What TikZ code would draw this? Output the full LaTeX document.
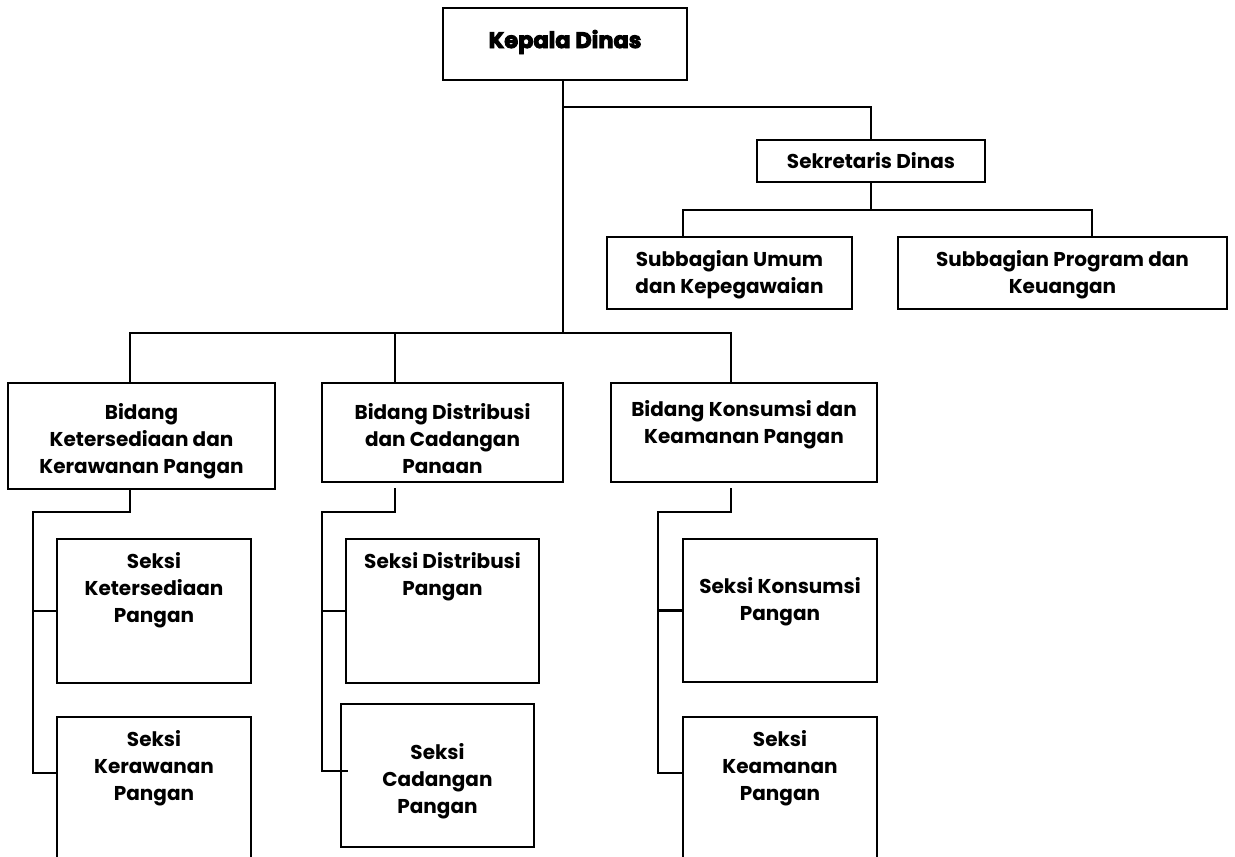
\documentclass[tikz,border=0pt]{standalone}
\usepackage{fontspec}
\setmainfont{Poppins}
\newfontfamily\heavyfont{Poppins}[BoldFeatures={FakeBold=4}]
\begin{document}
\begin{tikzpicture}[x=1pt,y=-1pt,
  box/.style={draw, line width=2.4pt, rectangle, inner sep=0pt},
  lbl/.style={align=center, inner sep=0pt, font=\bfseries\fontsize{20}{27}\selectfont},
  conn/.style={line width=2.4pt}]
\useasboundingbox (0,0) rectangle (1235,857);
\clip (0,0) rectangle (1235,857);
% boxes
\node[box, minimum width=244pt, minimum height=72pt] (kepala) at (565,44) {};
\node[box, minimum width=228pt, minimum height=42pt] (sekr) at (871,161) {};
\node[box, minimum width=245pt, minimum height=72pt] (subU) at (729.5,273) {};
\node[box, minimum width=329pt, minimum height=72pt] (subP) at (1062.5,273) {};
\node[box, minimum width=267pt, minimum height=106pt] (b1) at (141.5,436) {};
\node[box, minimum width=241pt, minimum height=99pt] (b2) at (442.5,432.5) {};
\node[box, minimum width=266pt, minimum height=99pt] (b3) at (744,432.5) {};
\node[box, minimum width=194pt, minimum height=144pt] (s1a) at (154,611) {};
\node[box, minimum width=194pt, minimum height=153pt] (s1b) at (154,793.5) {};
\node[box, minimum width=193pt, minimum height=144pt] (s2a) at (442.5,611) {};
\node[box, minimum width=193pt, minimum height=143pt] (s2b) at (437.5,775.5) {};
\node[box, minimum width=194pt, minimum height=143pt] (s3a) at (780,610.5) {};
\node[box, minimum width=194pt, minimum height=153pt] (s3b) at (780,793.5) {};
% labels
\node[lbl, font=\heavyfont\bfseries\fontsize{22.5}{26}\selectfont] (kepalat) at (565,42) {Kepala Dinas};
\node[lbl] (sekrt) at (871,161) {Sekretaris Dinas};
\node[lbl] (subUt) at (729.5,275) {Subbagian Umum\\dan Kepegawaian};
\node[lbl] (subPt) at (1062.5,275) {Subbagian Program dan\\Keuangan};
\node[lbl] (b1t) at (141.5,441) {Bidang\\Ketersediaan dan\\Kerawanan Pangan};
\node[lbl] (b2t) at (442.5,439) {Bidang Distribusi\\dan Cadangan\\Panaan};
\node[lbl] (b3t) at (744,425) {Bidang Konsumsi dan\\Keamanan Pangan};
\node[lbl] (s1at) at (154,590) {Seksi\\Ketersediaan\\Pangan};
\node[lbl] (s2at) at (442.5,576.5) {Seksi Distribusi\\Pangan};
\node[lbl] (s3at) at (780,601.5) {Seksi Konsumsi\\Pangan};
\node[lbl] (s1bt) at (154,768) {Seksi\\Kerawanan\\Pangan};
\node[lbl] (s2bt) at (437.5,781) {Seksi\\Cadangan\\Pangan};
\node[lbl] (s3bt) at (780,768) {Seksi\\Keamanan\\Pangan};
% connectors: top
\coordinate (jtop) at (563,333);
\coordinate (js) at (563,107);
\draw[conn] (kepala.south -| jtop) -- (jtop);
\draw[conn] (js) -| (sekr.north);
\coordinate (jsub) at (871,210);
\coordinate (su1) at (683,210);
\coordinate (su2) at (1092,210);
\draw[conn] (sekr.south) -- (jsub);
\draw[conn] (subU.north -| su1) -- (su1) -- (su2) -- (subP.north -| su2);
% bidang
\coordinate (hb1) at (130,333);
\coordinate (hb2) at (395,333);
\coordinate (hb3) at (731,333);
\draw[conn] (b1.north -| hb1) -- (hb1) -- (hb3) -- (b3.north -| hb3);
\draw[conn] (hb2) -- (b2.north -| hb2);
% under bidang 1
\coordinate (d1) at (130,512);
\coordinate (v1) at (33,512);
\coordinate (v1b) at (33,773);
\draw[conn] (b1.south -| d1) -- (d1) -- (v1) -- (v1b) -- (s1b.west |- v1b);
\draw[conn] (v1 |- s1a.west) -- (s1a.west);
% under bidang 2
\coordinate (d2t) at (395,488);
\coordinate (d2) at (395,512);
\coordinate (v2) at (322,512);
\coordinate (v2b) at (322,771);
\coordinate (t2b) at (348,771);
\draw[conn] (d2t) -- (d2) -- (v2) -- (v2b) -- (t2b);
\draw[conn] (v2 |- s2a.west) -- (s2a.west);
% under bidang 3
\coordinate (d3t) at (731,488);
\coordinate (d3) at (731,512);
\coordinate (v3) at (658,512);
\coordinate (v3b) at (658,773);
\draw[conn] (d3t) -- (d3) -- (v3) -- (v3b) -- (s3b.west |- v3b);
\draw[conn] (v3 |- s3a.west) -- (s3a.west);
\end{tikzpicture}
\end{document}
